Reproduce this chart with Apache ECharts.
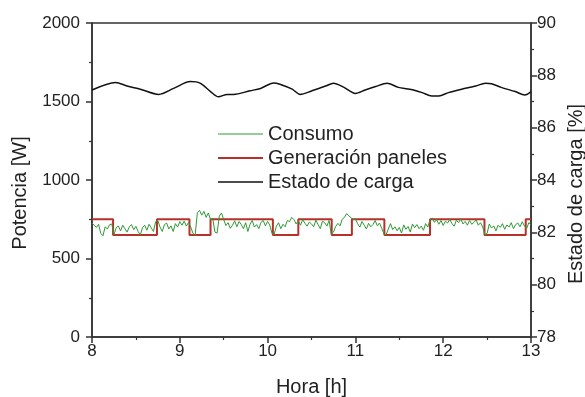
<!DOCTYPE html>
<html>
<head>
<meta charset="utf-8">
<script src="https://cdn.jsdelivr.net/npm/echarts@6/dist/echarts.min.js"></script>
<style>
  html, body { margin: 0; padding: 0; background: #fff; }
  #chart { width: 585px; height: 397px; }
</style>
</head>
<body>
<div id="chart"></div>
<script>
// consumo [W], muestras cada 0.025 h desde las 8:00
const consumoStart = 8
const consumoStep = 0.025
const consumo = [
  725, 712, 698, 718, 660, 645, 702, 688, 715, 720,
  652, 694, 708, 676, 712, 690, 668, 702, 716, 684,
  705, 672, 650, 696, 712, 680, 718, 695, 672, 735,
  742, 700, 672, 716, 726, 688, 708, 672, 722, 700,
  735, 712, 738, 706, 730, 700, 660, 650, 792, 806,
  776, 800, 762, 790, 748, 756, 668, 662, 770, 790,
  748, 710, 728, 692, 712, 740, 702, 736, 716, 690,
  728, 672, 718, 742, 700, 716, 690, 730, 742, 708,
  736, 712, 660, 655, 706, 728, 690, 718, 702, 742,
  735, 762, 748, 720, 740, 712, 748, 724, 706, 732,
  720, 702, 744, 716, 690, 738, 728, 706, 742, 655,
  668, 704, 724, 708, 750, 762, 786, 772, 760, 748,
  752, 722, 700, 736, 712, 688, 724, 702, 716, 742,
  708, 726, 692, 658, 652, 688, 722, 684, 702, 676,
  698, 662, 714, 686, 704, 668, 720, 696, 716, 690,
  706, 680, 722, 700, 748, 758, 730, 748, 718, 742,
  710, 738, 726, 750, 722, 706, 744, 728, 752, 720,
  736, 712, 742, 718, 730, 746, 712, 728, 700, 652,
  660, 720, 694, 708, 676, 712, 698, 722, 686, 714,
  700, 728, 690, 716, 726, 702, 734, 708, 690, 728,
  716
]

// generación paneles (escalones)
const genHoras = [8, 8.24, 8.74, 9.11, 9.35, 10.06, 10.35, 10.73, 10.96, 11.33, 11.85, 12.47, 12.94, 13]
const genPotencia = [750, 650, 750, 650, 750, 650, 750, 650, 750, 650, 750, 650, 750, 750]

// estado de carga [%]
const socHoras = [8.0, 8.27, 8.4, 8.55, 8.76, 8.93, 9.12, 9.23, 9.35, 9.44, 9.54, 9.61, 9.8, 9.92,
  10.07, 10.14, 10.28, 10.37, 10.5, 10.66, 10.75, 10.87, 11.0, 11.11, 11.23, 11.36, 11.49, 11.62,
  11.76, 11.87, 11.95, 12.06, 12.21, 12.37, 12.48, 12.55, 12.66, 12.82, 12.93, 13.0]
const socValores = [87.44, 87.73, 87.59, 87.47, 87.27, 87.5, 87.76, 87.7, 87.38, 87.18, 87.27, 87.27, 87.41, 87.5,
  87.71, 87.66, 87.47, 87.27, 87.4, 87.59, 87.7, 87.54, 87.31, 87.44, 87.57, 87.7, 87.54, 87.47,
  87.34, 87.21, 87.21, 87.34, 87.47, 87.59, 87.7, 87.68, 87.54, 87.38, 87.25, 87.38]

const font = 'Liberation Sans, Arial, sans-serif'
const ink = '#222'

const chart = echarts.init(document.getElementById('chart'))

const axisBase = {
  axisLine: { show: true, lineStyle: { color: '#333', width: 1.5 } },
  axisTick: { show: true, inside: false, length: 6, lineStyle: { color: '#333', width: 1.5 } },
  minorTick: { show: true, splitNumber: 2, length: 3, lineStyle: { color: '#333', width: 1.2 } },
  splitLine: { show: false },
  axisLabel: { color: ink, fontSize: 17, fontFamily: font, formatter: v => String(v) },
  nameTextStyle: { color: ink, fontSize: 20, fontFamily: font }
}

const option = {
  backgroundColor: '#fff',
  animation: false,
  grid: {
    left: 92, right: 54, top: 23, bottom: 60,
    outerBoundsMode: 'none', containLabel: false,
    show: true, borderColor: '#333', borderWidth: 1.5
  },
  legend: {
    left: 213, top: 119, orient: 'vertical',
    itemWidth: 45, itemHeight: 14, itemGap: 4,
    textStyle: { color: ink, fontSize: 20, fontFamily: font },
    data: [
      { name: 'Consumo', icon: 'path://M0,0H45V1H0Z' },
      { name: 'Generación paneles', icon: 'path://M0,0H45V2.2H0Z' },
      { name: 'Estado de carga', icon: 'path://M0,0H45V1.6H0Z' }
    ]
  },
  xAxis: {
    ...axisBase,
    type: 'value', min: 8, max: 13, interval: 1,
    name: 'Hora [h]', nameLocation: 'middle', nameGap: 40,
    axisLabel: { ...axisBase.axisLabel, margin: 6 }
  },
  yAxis: [
    {
      ...axisBase,
      type: 'value', min: 0, max: 2000, interval: 500, position: 'left',
      name: 'Potencia [W]', nameLocation: 'middle', nameGap: 62, nameRotate: 90,
      nameTextStyle: { ...axisBase.nameTextStyle, padding: [0, 26, 0, 0] },
      axisLabel: { ...axisBase.axisLabel, margin: 12 }
    },
    {
      ...axisBase,
      type: 'value', min: 78, max: 90, interval: 2, position: 'right',
      name: 'Estado de carga [%]', nameLocation: 'middle', nameGap: 34, nameRotate: 90,
      nameTextStyle: { ...axisBase.nameTextStyle, padding: [0, 28, 0, 0] },
      axisLabel: { ...axisBase.axisLabel, margin: 6 }
    }
  ],
  series: [
    {
      name: 'Consumo', type: 'line', symbol: 'none',
      lineStyle: { color: '#2f9a35', width: 1 },
      itemStyle: { color: '#2f9a35' },
      data: consumo.map((v, i) => [consumoStart + i * consumoStep, v]),
      z: 3
    },
    {
      name: 'Generación paneles', type: 'line', symbol: 'none', step: 'end',
      lineStyle: { color: '#b8302a', width: 2 },
      itemStyle: { color: '#b8302a' },
      data: genHoras.map((h, i) => [h, genPotencia[i]]),
      z: 2
    },
    {
      name: 'Estado de carga', type: 'line', symbol: 'none', yAxisIndex: 1, smooth: 0.3,
      lineStyle: { color: '#111', width: 1.5 },
      itemStyle: { color: '#111' },
      data: socHoras.map((h, i) => [h, socValores[i]])
    }
  ]
}

chart.setOption(option)
window.addEventListener('resize', chart.resize)
</script>
</body>
</html>
